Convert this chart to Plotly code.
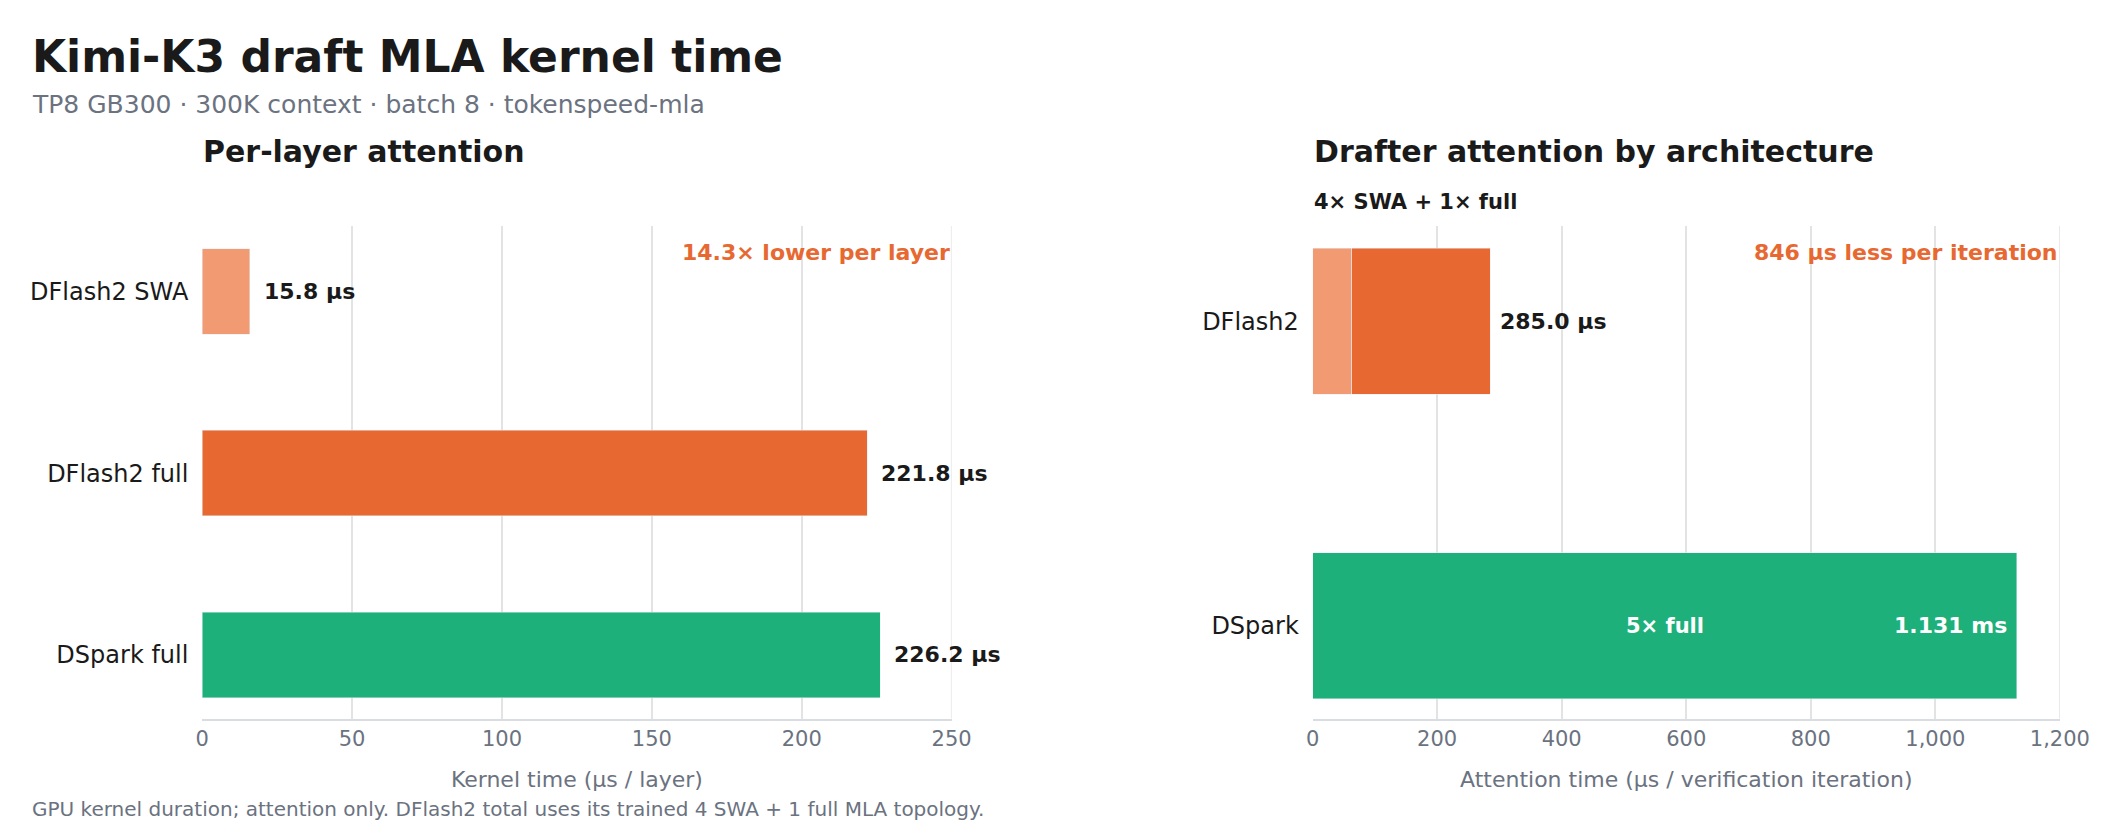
import plotly.graph_objects as go
from plotly.subplots import make_subplots

# --- data ---
layer_cats = ["DFlash2 SWA", "DFlash2 full", "DSpark full"]
layer_us = [15.8, 221.8, 226.2]
arch_cats = ["DFlash2", "DSpark"]
dflash_swa_us = 4 * 15.8
dflash_full_us = 221.8
dspark_us = 5 * 226.2

LIGHT = "#F29B72"
ORANGE = "#E76831"
GREEN = "#1DB07A"
INK = "#1a1a1a"
GRAY = "#6b7280"
GRID = "#e3e3e3"
FONT = "DejaVu Sans"

fig = make_subplots(rows=1, cols=2, horizontal_spacing=0.17)

fig.add_trace(go.Bar(
    y=layer_cats, x=layer_us, orientation="h", width=0.47,
    marker=dict(color=[LIGHT, ORANGE, GREEN]), showlegend=False,
), row=1, col=1)
for cat, v in zip(layer_cats, layer_us):
    fig.add_annotation(x=v, y=cat, xref="x", yref="y", text=f"<b>{v:.1f} µs</b>",
                       showarrow=False, xanchor="left", xshift=12,
                       font=dict(size=22, color=INK))

fig.add_trace(go.Bar(
    y=[arch_cats[0]], x=[dflash_swa_us], orientation="h", width=0.48,
    marker=dict(color=LIGHT), showlegend=False,
), row=1, col=2)
fig.add_trace(go.Bar(
    y=[arch_cats[0]], x=[dflash_full_us], orientation="h", width=0.48,
    marker=dict(color=ORANGE), showlegend=False,
), row=1, col=2)
fig.add_trace(go.Bar(
    y=[arch_cats[1]], x=[dspark_us], orientation="h", width=0.48,
    marker=dict(color=GREEN), showlegend=False,
), row=1, col=2)
fig.update_layout(barmode="stack")

dflash_total = dflash_swa_us + dflash_full_us
fig.add_annotation(x=dflash_total, y=arch_cats[0], xref="x2", yref="y2",
                   text=f"<b>{dflash_total:.1f} µs</b>", showarrow=False,
                   xanchor="left", xshift=8, font=dict(size=22, color=INK))
fig.add_annotation(x=dspark_us / 2, y=arch_cats[1], xref="x2", yref="y2",
                   text="<b>5× full</b>", showarrow=False,
                   font=dict(size=21, color="white"))
fig.add_annotation(x=dspark_us, y=arch_cats[1], xref="x2", yref="y2",
                   text=f"<b>{dspark_us/1000:.3f} ms</b>", showarrow=False,
                   xanchor="right", xshift=-8, font=dict(size=22, color="white"))

# titles and notes
fig.add_annotation(x=0.0105, y=0.975, xref="paper", yref="paper", xanchor="left", yanchor="top",
                   text="<b>Kimi-K3 draft MLA kernel time</b>", showarrow=False,
                   font=dict(size=44, color=INK))
fig.add_annotation(x=0.0105, y=0.905, xref="paper", yref="paper", xanchor="left", yanchor="top",
                   text="TP8 GB300 · 300K context · batch 8 · tokenspeed-mla", showarrow=False,
                   font=dict(size=25, color=GRAY))
fig.add_annotation(x=0.447, y=0.74, xref="paper", yref="paper", xanchor="right", yanchor="top",
                   yshift=-12, text="<b>14.3× lower per layer</b>", showarrow=False,
                   font=dict(size=22, color=ORANGE))
fig.add_annotation(x=0.972, y=0.74, xref="paper", yref="paper", xanchor="right", yanchor="top",
                   yshift=-12, text=f"<b>{dspark_us - dflash_total:.0f} µs less per iteration</b>",
                   showarrow=False, font=dict(size=22, color=ORANGE))
fig.add_annotation(x=0.0915, y=0.805, xref="paper", yref="paper", xanchor="left", yanchor="bottom",
                   text="<b>Per-layer attention</b>", showarrow=False, font=dict(size=30, color=INK))
fig.add_annotation(x=0.6175, y=0.805, xref="paper", yref="paper", xanchor="left", yanchor="bottom",
                   text="<b>Drafter attention by architecture</b>", showarrow=False,
                   font=dict(size=30, color=INK))
fig.add_annotation(x=0.6175, y=0.752, xref="paper", yref="paper", xanchor="left", yanchor="bottom",
                   text="<b>4× SWA + 1× full</b>", showarrow=False, font=dict(size=21, color=INK))
fig.add_annotation(x=0.0105, y=0.027, xref="paper", yref="paper", xanchor="left", yanchor="bottom",
                   text="GPU kernel duration; attention only. DFlash2 total uses its trained 4 SWA + 1 full MLA topology.",
                   showarrow=False, font=dict(size=20, color=GRAY))

fig.update_layout(
    width=2111, height=838,
    font=dict(family=FONT, color=INK),
    paper_bgcolor="white", plot_bgcolor="white",
    margin=dict(l=0, r=0, t=0, b=0),
)

axis_common = dict(showgrid=True, gridcolor=GRID, gridwidth=1.5, zeroline=False,
                   showline=True, linecolor="#d9dde2", linewidth=2, ticks="",
                   tickfont=dict(size=21, color=GRAY), automargin=False)
fig.update_xaxes(domain=[0.092, 0.447], range=[0, 250], dtick=50,
                 title=dict(text="Kernel time (µs / layer)", font=dict(size=22, color=GRAY), standoff=22),
                 **axis_common, row=1, col=1)
fig.update_xaxes(domain=[0.618, 0.972], range=[0, 1200], dtick=200, tickformat=",",
                 title=dict(text="Attention time (µs / verification iteration)", font=dict(size=22, color=GRAY), standoff=22),
                 **axis_common, row=1, col=2)
fig.update_yaxes(domain=[0.152, 0.74], showgrid=False, automargin=False,
                 tickfont=dict(size=24, color=INK), ticks="outside", ticklen=8, tickcolor="rgba(0,0,0,0)")
fig.update_yaxes(range=[2.35, -0.36], row=1, col=1)
fig.update_yaxes(range=[1.305, -0.314], row=1, col=2)

# right border gridline at end of range
fig.add_shape(type="line", xref="x", yref="paper", x0=250, x1=250, y0=0.152, y1=0.74,
              line=dict(color=GRID, width=1.5))
fig.add_shape(type="line", xref="x2", yref="paper", x0=1200, x1=1200, y0=0.152, y1=0.74,
              line=dict(color=GRID, width=1.5))

fig.write_html("out.html")
